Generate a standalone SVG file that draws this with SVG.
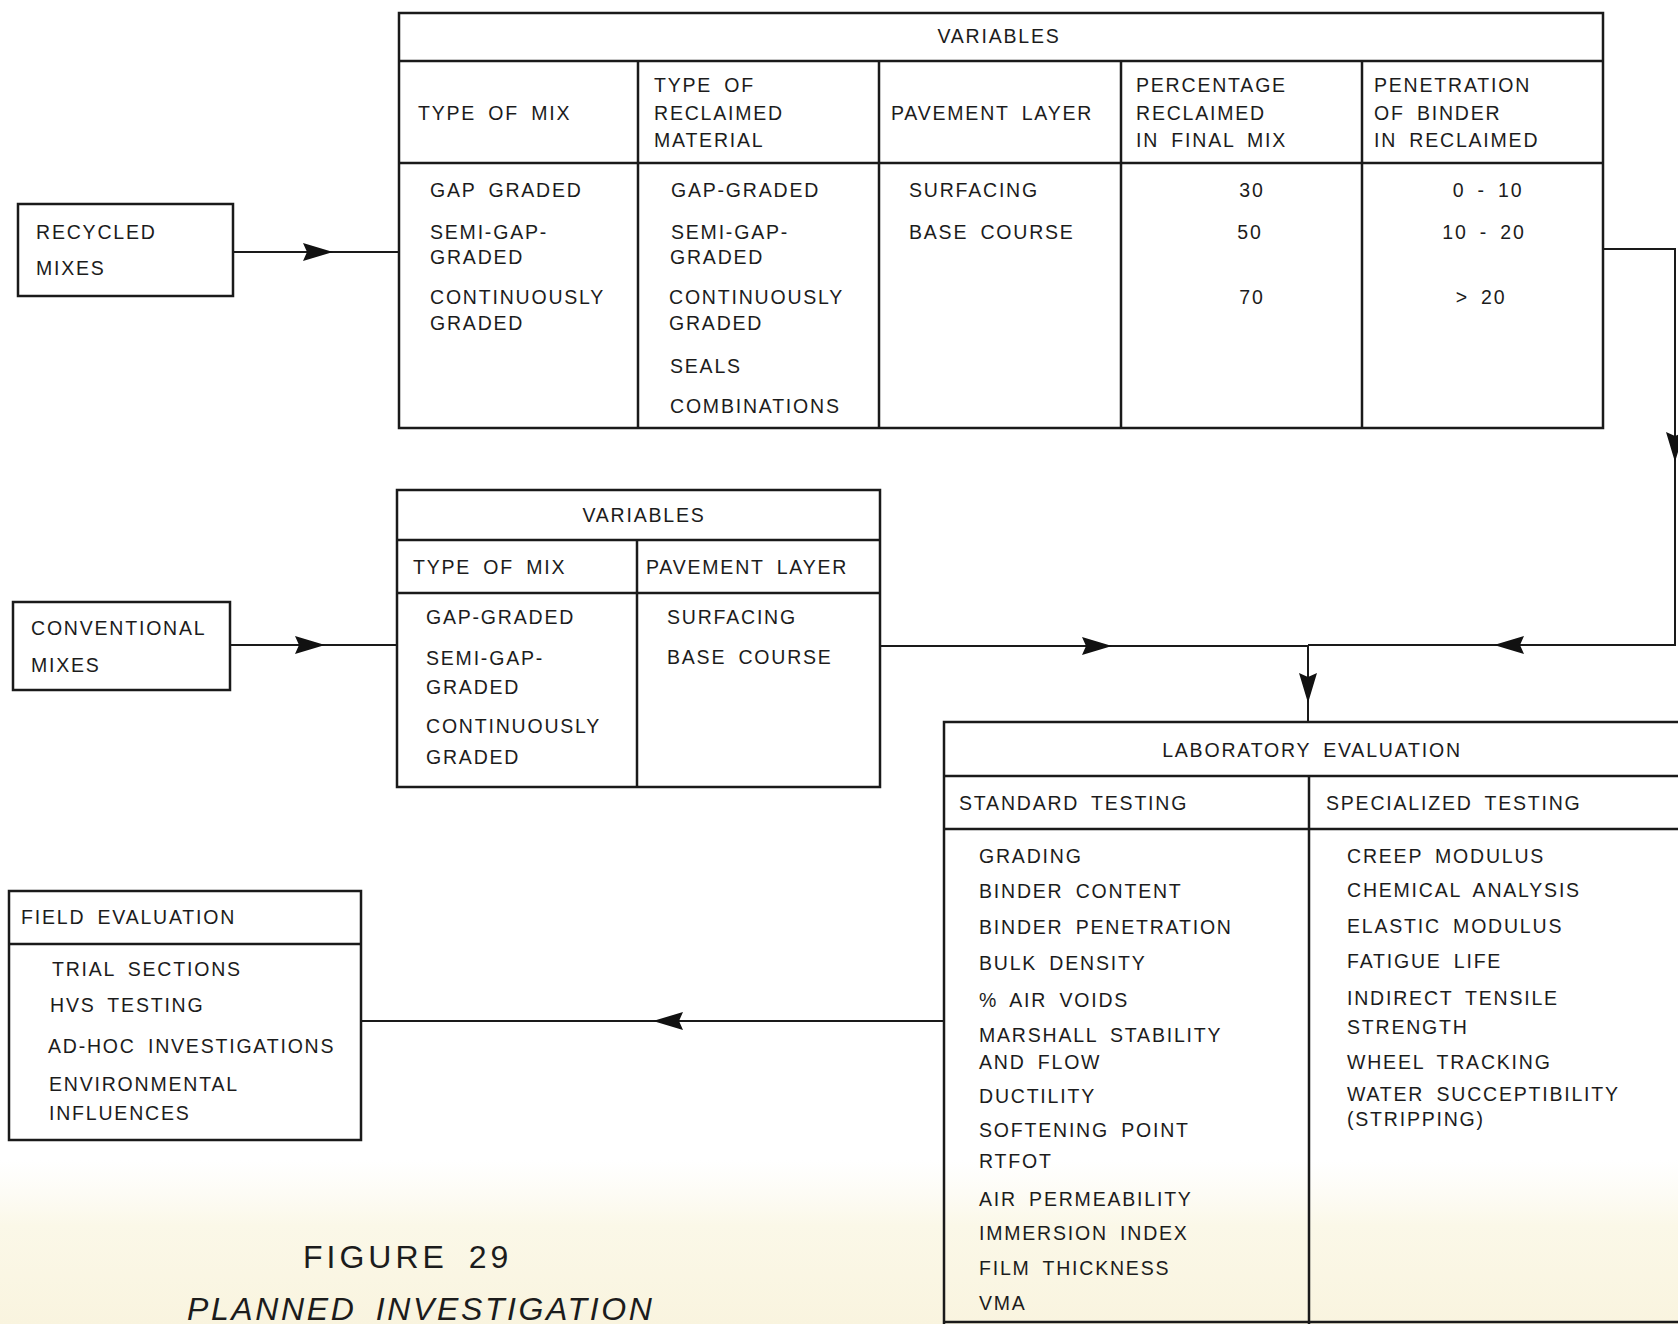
<svg xmlns="http://www.w3.org/2000/svg" width="1678" height="1324" viewBox="0 0 1678 1324">
<style>
.t{font-family:"Liberation Sans",Arial,sans-serif;font-size:19.5px;letter-spacing:1.8px;word-spacing:5px;fill:#1c1c1c}
.c{text-anchor:middle}
.cap{font-family:"Liberation Sans",Arial,sans-serif;font-size:32px;letter-spacing:4px;word-spacing:8px;fill:#1c1c1c}
.it{font-style:italic;letter-spacing:2.6px}
.box{fill:none;stroke:#1a1a1a;stroke-width:2.5}
.ln{fill:none;stroke:#1a1a1a;stroke-width:2}
.ah{fill:#111}
</style>
<defs>
<path id="ah" d="M0,0 L-30,-9 L-26,0 L-30,9 Z"/>
<linearGradient id="cream" x1="0" y1="0" x2="0" y2="1">
<stop offset="0" stop-color="#fbf9ee" stop-opacity="0"/>
<stop offset="0.4" stop-color="#fbf8e8"/>
<stop offset="1" stop-color="#f9f4df"/>
</linearGradient>
</defs>
<rect width="1678" height="1324" fill="#ffffff"/>
<rect x="0" y="1160" width="1678" height="164" fill="url(#cream)"/>

<g id="recycled-mixes">
<rect class="box" x="18" y="204" width="215" height="92"/>
<text class="t" x="36" y="239">RECYCLED</text>
<text class="t" x="36" y="275">MIXES</text>
</g>

<g id="recycled-variables">
<rect class="box" x="399" y="13" width="1204" height="415"/>
<line class="box" x1="399" y1="61" x2="1603" y2="61"/>
<line class="box" x1="399" y1="163" x2="1603" y2="163"/>
<line class="box" x1="638" y1="61" x2="638" y2="428"/>
<line class="box" x1="879" y1="61" x2="879" y2="428"/>
<line class="box" x1="1121" y1="61" x2="1121" y2="428"/>
<line class="box" x1="1362" y1="61" x2="1362" y2="428"/>
<text class="t c" x="999" y="43">VARIABLES</text>
<text class="t" x="418" y="120">TYPE OF MIX</text>
<text class="t" x="654" y="92">TYPE OF</text>
<text class="t" x="654" y="120">RECLAIMED</text>
<text class="t" x="654" y="147">MATERIAL</text>
<text class="t" x="891" y="120">PAVEMENT LAYER</text>
<text class="t" x="1136" y="92">PERCENTAGE</text>
<text class="t" x="1136" y="120">RECLAIMED</text>
<text class="t" x="1136" y="147">IN FINAL MIX</text>
<text class="t" x="1374" y="92">PENETRATION</text>
<text class="t" x="1374" y="120">OF BINDER</text>
<text class="t" x="1374" y="147">IN RECLAIMED</text>
<text class="t" x="430" y="197">GAP GRADED</text>
<text class="t" x="430" y="239">SEMI-GAP-</text>
<text class="t" x="430" y="264">GRADED</text>
<text class="t" x="430" y="304">CONTINUOUSLY</text>
<text class="t" x="430" y="330">GRADED</text>
<text class="t" x="671" y="197">GAP-GRADED</text>
<text class="t" x="671" y="239">SEMI-GAP-</text>
<text class="t" x="670" y="264">GRADED</text>
<text class="t" x="669" y="304">CONTINUOUSLY</text>
<text class="t" x="669" y="330">GRADED</text>
<text class="t" x="670" y="373">SEALS</text>
<text class="t" x="670" y="413">COMBINATIONS</text>
<text class="t" x="909" y="197">SURFACING</text>
<text class="t" x="909" y="239">BASE COURSE</text>
<text class="t c" x="1252" y="197">30</text>
<text class="t c" x="1250" y="239">50</text>
<text class="t c" x="1252" y="304">70</text>
<text class="t c" x="1488" y="197">0 - 10</text>
<text class="t c" x="1484" y="239">10 - 20</text>
<text class="t c" x="1481" y="304">&gt; 20</text>
</g>

<g id="conventional-mixes">
<rect class="box" x="13" y="602" width="217" height="88"/>
<text class="t" x="31" y="635">CONVENTIONAL</text>
<text class="t" x="31" y="672">MIXES</text>
</g>

<g id="conventional-variables">
<rect class="box" x="397" y="490" width="483" height="297"/>
<line class="box" x1="397" y1="540" x2="880" y2="540"/>
<line class="box" x1="397" y1="593" x2="880" y2="593"/>
<line class="box" x1="637" y1="540" x2="637" y2="787"/>
<text class="t c" x="644" y="522">VARIABLES</text>
<text class="t" x="413" y="574">TYPE OF MIX</text>
<text class="t" x="646" y="574">PAVEMENT LAYER</text>
<text class="t" x="426" y="624">GAP-GRADED</text>
<text class="t" x="426" y="665">SEMI-GAP-</text>
<text class="t" x="426" y="694">GRADED</text>
<text class="t" x="426" y="733">CONTINUOUSLY</text>
<text class="t" x="426" y="764">GRADED</text>
<text class="t" x="667" y="624">SURFACING</text>
<text class="t" x="667" y="664">BASE COURSE</text>
</g>

<g id="laboratory-evaluation">
<path class="box" d="M1690,722 H944 V1330"/>
<line class="box" x1="944" y1="776" x2="1690" y2="776"/>
<line class="box" x1="944" y1="829" x2="1690" y2="829"/>
<line class="box" x1="1309" y1="776" x2="1309" y2="1330"/>
<line class="box" x1="944" y1="1322" x2="1690" y2="1322"/>
<text class="t c" x="1312" y="757">LABORATORY EVALUATION</text>
<text class="t" x="959" y="810">STANDARD TESTING</text>
<text class="t" x="1326" y="810">SPECIALIZED TESTING</text>
<text class="t" x="979" y="863">GRADING</text>
<text class="t" x="979" y="898">BINDER CONTENT</text>
<text class="t" x="979" y="934">BINDER PENETRATION</text>
<text class="t" x="979" y="970">BULK DENSITY</text>
<text class="t" x="979" y="1007">% AIR VOIDS</text>
<text class="t" x="979" y="1042">MARSHALL STABILITY</text>
<text class="t" x="979" y="1069">AND FLOW</text>
<text class="t" x="979" y="1103">DUCTILITY</text>
<text class="t" x="979" y="1137">SOFTENING POINT</text>
<text class="t" x="979" y="1168">RTFOT</text>
<text class="t" x="979" y="1206">AIR PERMEABILITY</text>
<text class="t" x="979" y="1240">IMMERSION INDEX</text>
<text class="t" x="979" y="1275">FILM THICKNESS</text>
<text class="t" x="979" y="1310">VMA</text>
<text class="t" x="1347" y="863">CREEP MODULUS</text>
<text class="t" x="1347" y="897">CHEMICAL ANALYSIS</text>
<text class="t" x="1347" y="933">ELASTIC MODULUS</text>
<text class="t" x="1347" y="968">FATIGUE LIFE</text>
<text class="t" x="1347" y="1005">INDIRECT TENSILE</text>
<text class="t" x="1347" y="1034">STRENGTH</text>
<text class="t" x="1347" y="1069">WHEEL TRACKING</text>
<text class="t" x="1347" y="1101">WATER SUCCEPTIBILITY</text>
<text class="t" x="1347" y="1126">(STRIPPING)</text>
</g>

<g id="field-evaluation">
<rect class="box" x="9" y="891" width="352" height="249"/>
<line class="box" x1="9" y1="944" x2="361" y2="944"/>
<text class="t" x="21" y="924">FIELD EVALUATION</text>
<text class="t" x="52" y="976">TRIAL SECTIONS</text>
<text class="t" x="50" y="1012">HVS TESTING</text>
<text class="t" x="48" y="1053">AD-HOC INVESTIGATIONS</text>
<text class="t" x="49" y="1091">ENVIRONMENTAL</text>
<text class="t" x="49" y="1120">INFLUENCES</text>
</g>

<g id="caption">
<text class="cap" x="303" y="1268">FIGURE 29</text>
<text class="cap it" x="187" y="1320">PLANNED INVESTIGATION</text>
</g>

<g id="connectors">
<line class="ln" x1="233" y1="252" x2="399" y2="252"/>
<use href="#ah" class="ah" transform="translate(333,252)"/>
<line class="ln" x1="230" y1="645" x2="397" y2="645"/>
<use href="#ah" class="ah" transform="translate(325,645)"/>
<path class="ln" d="M1603,249 H1675 V645 H1308"/>
<use href="#ah" class="ah" transform="translate(1675,462) rotate(90)"/>
<use href="#ah" class="ah" transform="translate(1494,645) rotate(180)"/>
<line class="ln" x1="880" y1="646" x2="1308" y2="646"/>
<use href="#ah" class="ah" transform="translate(1112,646)"/>
<line class="ln" x1="1308" y1="645" x2="1308" y2="722"/>
<use href="#ah" class="ah" transform="translate(1308,703) rotate(90)"/>
<line class="ln" x1="944" y1="1021" x2="361" y2="1021"/>
<use href="#ah" class="ah" transform="translate(653,1021) rotate(180)"/>
</g>
</svg>
